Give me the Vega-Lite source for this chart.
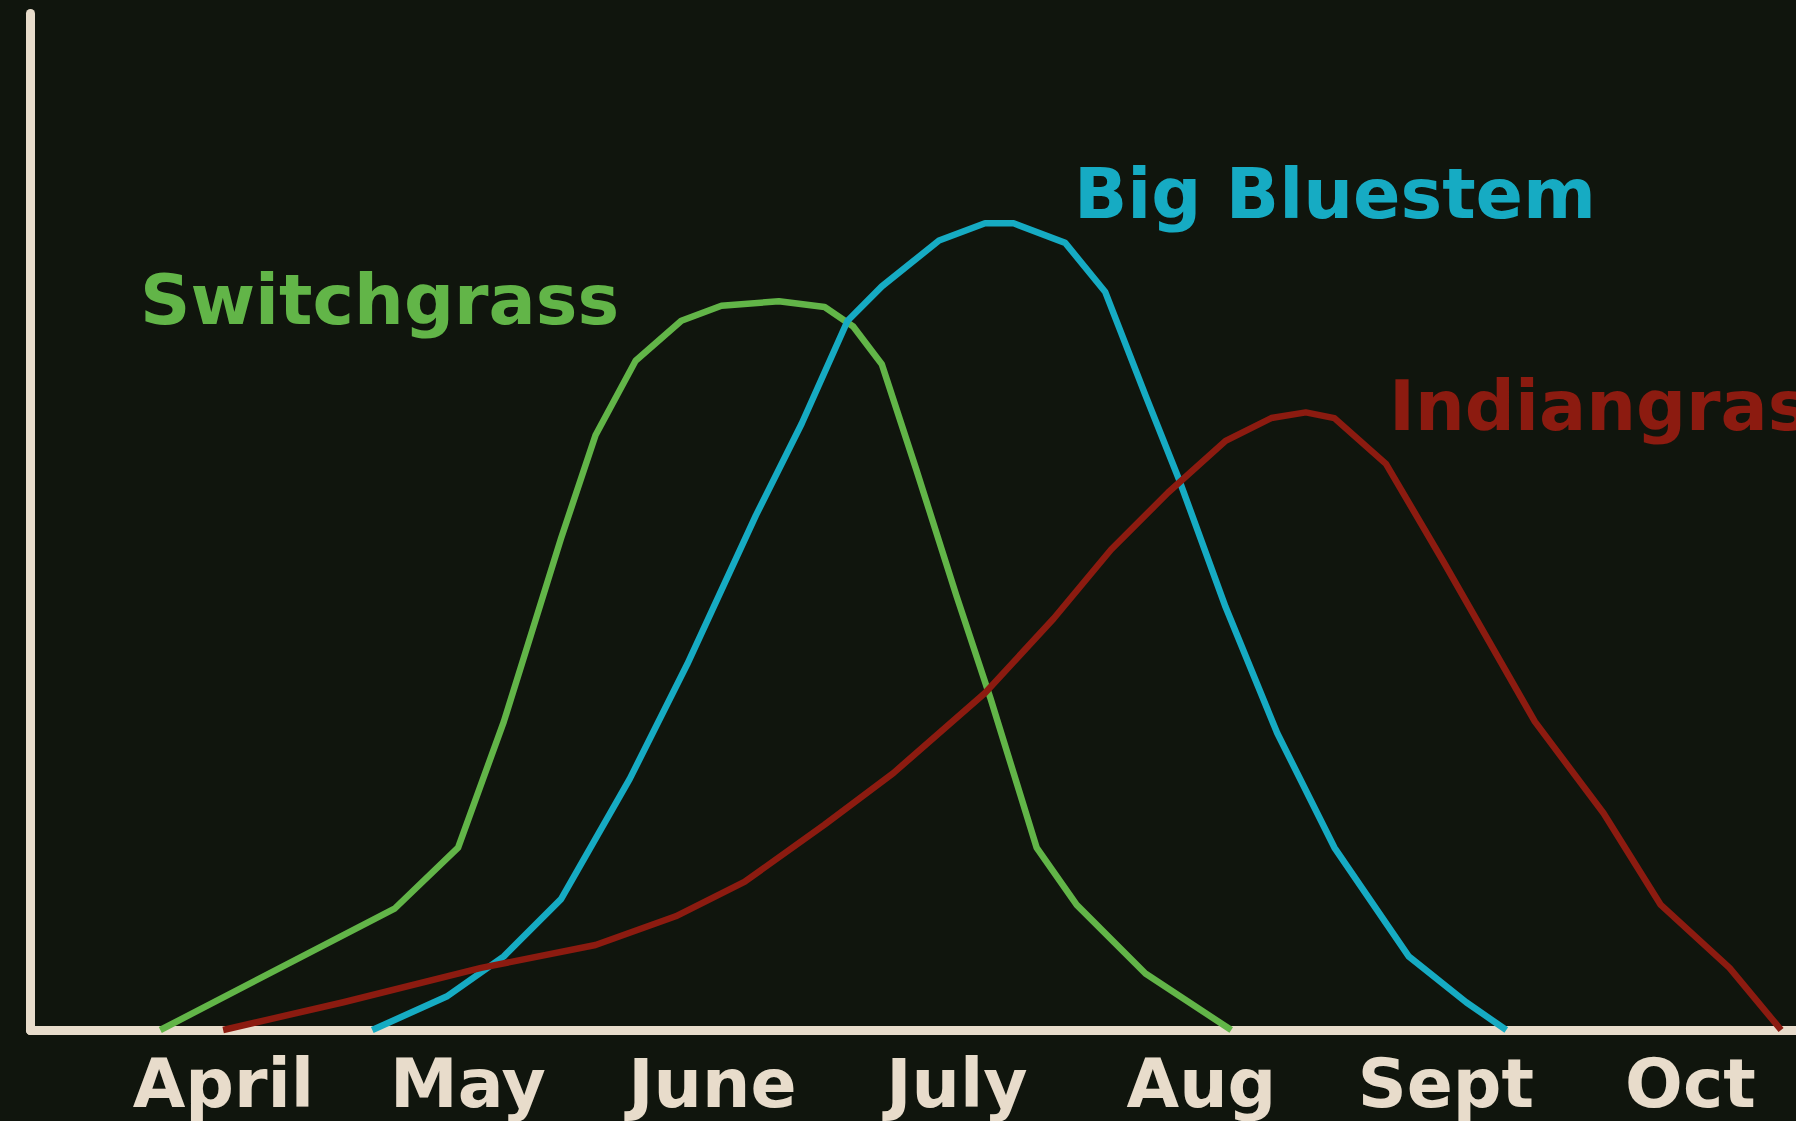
{
  "$schema": "https://vega.github.io/schema/vega-lite/v6.json",
  "width": 1766,
  "height": 1017,
  "autosize": {"type": "none"},
  "padding": {"left": 30, "top": 13, "right": 0, "bottom": 91},
  "background": "#10150d",
  "config": {"view": {"stroke": null}},
  "datasets": {
    "curves": [
      {"series": "Switchgrass", "month": -0.256, "value": 0},
      {"series": "Switchgrass", "month": 0.704, "value": 11.97},
      {"series": "Switchgrass", "month": 0.962, "value": 17.94},
      {"series": "Switchgrass", "month": 1.149, "value": 30.32},
      {"series": "Switchgrass", "month": 1.383, "value": 48.34},
      {"series": "Switchgrass", "month": 1.524, "value": 58.48},
      {"series": "Switchgrass", "month": 1.688, "value": 65.8},
      {"series": "Switchgrass", "month": 1.875, "value": 69.74},
      {"series": "Switchgrass", "month": 2.039, "value": 71.21},
      {"series": "Switchgrass", "month": 2.274, "value": 71.66},
      {"series": "Switchgrass", "month": 2.461, "value": 71.09},
      {"series": "Switchgrass", "month": 2.578, "value": 69.18},
      {"series": "Switchgrass", "month": 2.695, "value": 65.46},
      {"series": "Switchgrass", "month": 2.836, "value": 55.1},
      {"series": "Switchgrass", "month": 3.0, "value": 42.71},
      {"series": "Switchgrass", "month": 3.14, "value": 32.58},
      {"series": "Switchgrass", "month": 3.328, "value": 17.94},
      {"series": "Switchgrass", "month": 3.492, "value": 12.3},
      {"series": "Switchgrass", "month": 3.773, "value": 5.55},
      {"series": "Switchgrass", "month": 4.124, "value": 0},
      {"series": "Big Bluestem", "month": 0.611, "value": 0},
      {"series": "Big Bluestem", "month": 0.915, "value": 3.29},
      {"series": "Big Bluestem", "month": 1.149, "value": 7.24},
      {"series": "Big Bluestem", "month": 1.383, "value": 12.87},
      {"series": "Big Bluestem", "month": 1.664, "value": 24.69},
      {"series": "Big Bluestem", "month": 1.899, "value": 35.96},
      {"series": "Big Bluestem", "month": 2.18, "value": 50.6},
      {"series": "Big Bluestem", "month": 2.367, "value": 59.61},
      {"series": "Big Bluestem", "month": 2.555, "value": 69.74},
      {"series": "Big Bluestem", "month": 2.695, "value": 73.12},
      {"series": "Big Bluestem", "month": 2.929, "value": 77.63},
      {"series": "Big Bluestem", "month": 3.117, "value": 79.32},
      {"series": "Big Bluestem", "month": 3.234, "value": 79.32},
      {"series": "Big Bluestem", "month": 3.445, "value": 77.4},
      {"series": "Big Bluestem", "month": 3.609, "value": 72.56},
      {"series": "Big Bluestem", "month": 3.773, "value": 62.42},
      {"series": "Big Bluestem", "month": 3.913, "value": 53.98},
      {"series": "Big Bluestem", "month": 4.101, "value": 41.59},
      {"series": "Big Bluestem", "month": 4.312, "value": 29.2},
      {"series": "Big Bluestem", "month": 4.546, "value": 17.94},
      {"series": "Big Bluestem", "month": 4.85, "value": 7.24},
      {"series": "Big Bluestem", "month": 5.085, "value": 2.73},
      {"series": "Big Bluestem", "month": 5.249, "value": 0},
      {"series": "Indiangrass", "month": 0.001, "value": 0},
      {"series": "Indiangrass", "month": 0.493, "value": 2.73},
      {"series": "Indiangrass", "month": 1.056, "value": 6.11},
      {"series": "Indiangrass", "month": 1.524, "value": 8.36},
      {"series": "Indiangrass", "month": 1.852, "value": 11.18},
      {"series": "Indiangrass", "month": 2.133, "value": 14.56},
      {"series": "Indiangrass", "month": 2.461, "value": 20.19},
      {"series": "Indiangrass", "month": 2.742, "value": 25.26},
      {"series": "Indiangrass", "month": 3.117, "value": 33.14},
      {"series": "Indiangrass", "month": 3.398, "value": 40.46},
      {"series": "Indiangrass", "month": 3.632, "value": 47.22},
      {"series": "Indiangrass", "month": 3.866, "value": 52.85},
      {"series": "Indiangrass", "month": 4.101, "value": 57.92},
      {"series": "Indiangrass", "month": 4.288, "value": 60.17},
      {"series": "Indiangrass", "month": 4.429, "value": 60.73},
      {"series": "Indiangrass", "month": 4.546, "value": 60.17},
      {"series": "Indiangrass", "month": 4.757, "value": 55.67},
      {"series": "Indiangrass", "month": 4.991, "value": 46.09},
      {"series": "Indiangrass", "month": 5.366, "value": 30.32},
      {"series": "Indiangrass", "month": 5.647, "value": 21.31},
      {"series": "Indiangrass", "month": 5.881, "value": 12.3},
      {"series": "Indiangrass", "month": 6.162, "value": 6.11},
      {"series": "Indiangrass", "month": 6.373, "value": 0}
    ],
    "labels": [
      {"series": "Switchgrass", "month": -0.339, "value": 69.42},
      {"series": "Big Bluestem", "month": 3.481, "value": 79.84},
      {"series": "Indiangrass", "month": 4.769, "value": 59.0}
    ]
  },
  "encoding": {
    "x": {
      "field": "month",
      "type": "quantitative",
      "scale": {"domain": [-0.789, 6.434], "nice": false, "zero": false},
      "axis": {
        "values": [0, 1, 2, 3, 4, 5, 6],
        "labelExpr": "['April','May','June','July','Aug','Sept','Oct'][datum.value]",
        "title": null,
        "grid": false,
        "ticks": false,
        "tickSize": 0,
        "domainColor": "#e8dccb",
        "domainWidth": 9,
        "domainCap": "round",
        "labelFont": "DejaVu Sans",
        "labelFontWeight": "bold",
        "labelFontSize": 68,
        "labelColor": "#e8dccb",
        "labelPadding": 76,
        "labelBaseline": "alphabetic",
        "labelLimit": 0,
        "labelFlush": false,
        "labelOverlap": false,
        "labelBound": false
      }
    },
    "y": {
      "field": "value",
      "type": "quantitative",
      "scale": {"domain": [0, 100], "nice": false},
      "axis": {
        "title": null,
        "grid": false,
        "ticks": false,
        "labels": false,
        "domainColor": "#e8dccb",
        "domainWidth": 9,
        "domainCap": "round"
      }
    },
    "color": {
      "field": "series",
      "type": "nominal",
      "scale": {
        "domain": ["Switchgrass", "Big Bluestem", "Indiangrass"],
        "range": ["#62b548", "#16abc3", "#8c1b10"]
      },
      "legend": null
    }
  },
  "layer": [
    {
      "data": {"name": "curves"},
      "mark": {"type": "line", "strokeWidth": 6.5, "interpolate": "linear", "strokeJoin": "round"},
      "encoding": {"detail": {"field": "series"}}
    },
    {
      "data": {"name": "labels"},
      "mark": {
        "type": "text",
        "align": "left",
        "baseline": "alphabetic",
        "font": "DejaVu Sans",
        "fontWeight": "bold",
        "fontSize": 70
      },
      "encoding": {"text": {"field": "series"}}
    }
  ]
}
